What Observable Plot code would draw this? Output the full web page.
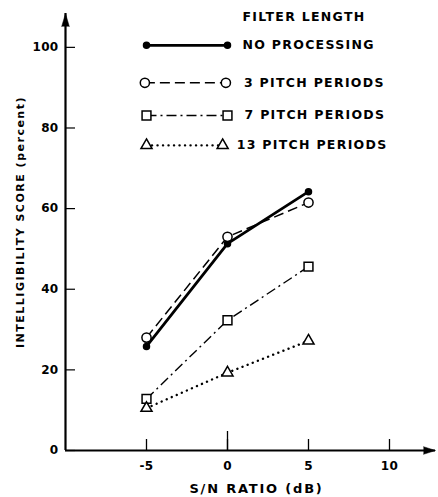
<!DOCTYPE html>
<html><head><meta charset="utf-8">
<script src="https://cdn.jsdelivr.net/npm/d3@7"></script>
<script src="https://cdn.jsdelivr.net/npm/@observablehq/plot@0.6"></script>
<style>
body{margin:0;background:#fff}
#chart svg{font-family:"DejaVu Sans",sans-serif;font-weight:bold;}
#chart svg .lgd text{letter-spacing:1.3px}
#chart svg .ylab text{letter-spacing:1.5px}
#chart svg .xlab text{letter-spacing:1.8px}
#chart svg .tickl text{letter-spacing:0.3px}
</style>
</head><body><div id="chart"></div><script>
// ---- data ----
const snr = [-5, 0, 5];
const noProcessing = [25.8, 51.3, 64.2];
const pitch3 = [28, 53, 61.5];
const pitch7 = [12.8, 32.3, 45.6];
const pitch13 = [10.5, 19.3, 27.2];
const seriesNames = ["NO PROCESSING", "3 PITCH PERIODS", "7 PITCH PERIODS", "13 PITCH PERIODS"];
const legendTitle = "FILTER LENGTH";
const xTicks = [-5, 0, 5, 10];
const yTicks = [0, 20, 40, 60, 80, 100];
const xLabel = "S/N RATIO (dB)";
const yLabel = "INTELLIGIBILITY SCORE (percent)";

// ---- styles / layout ----
const seriesValues = [noProcessing, pitch3, pitch7, pitch13];
const styles = [
  {strokeWidth: 2.8, dash: null, cap: "butt", symbol: "circle", r: 3, fill: "black"},
  {strokeWidth: 1.5, dash: "10 5", cap: "butt", symbol: "circle", r: 4.6, fill: "white"},
  {strokeWidth: 1.4, dash: "10 4 2 4", cap: "butt", symbol: "square", r: 5, fill: "white"},
  {strokeWidth: 2.4, dash: "0.1 5.4", cap: "round", symbol: "triangle", r: 4.1, fill: "white"}
];
const xMin = -10, xMax = 12.84, yMin = 0, yMax = 108.4;
const legendRowY = [100.5, 91.2, 83.1, 75.7];
const legendTitleY = 107.5;
const legendX1 = [-5, -5.1, -5, -5], legendX2 = [0, -0.1, 0, -0.3];
const legendTextDx = [15, 18, 17, 14];
const lgdFont = {fontSize: 12.5, fill: "black", fontWeight: "bold"};

const marks = [];
// axes lines + arrowheads
marks.push(Plot.ruleX([xMin], {y1: yMin, y2: yMax, strokeWidth: 2.2}));
marks.push(Plot.ruleY([yMin], {x1: xMin, x2: xMax, strokeWidth: 2}));
marks.push(Plot.vector([0], {x: () => xMin, y: () => yMax, anchor: "end", length: 13, r: 3.8, shape: "spike", fill: "black", stroke: "black", strokeWidth: 0.5}));
marks.push(Plot.vector([0], {x: () => xMax, y: () => yMin, anchor: "end", length: 12, r: 3.8, rotate: 90, shape: "spike", fill: "black", stroke: "black", strokeWidth: 0.5}));
// tick labels and inward ticks
marks.push(Plot.axisY(yTicks, {tickSize: 0, tickPadding: 7, label: null, fontSize: 12, fill: "black", className: "tickl"}));
marks.push(Plot.axisY(yTicks, {tickSize: -10, text: null, label: null, strokeWidth: 1.2}));
marks.push(Plot.axisX(xTicks, {tickSize: 0, tickPadding: 11, label: null, fontSize: 12, fill: "black", tickFormat: d => String(d), className: "tickl"}));
marks.push(Plot.axisX(xTicks, {tickSize: -11, text: null, label: null, strokeWidth: 1.3}));
marks.push(Plot.axisX([0], {tickSize: -19, text: null, label: null, strokeWidth: 1.3}));
// axis titles
marks.push(Plot.text([yLabel], {text: d => d, frameAnchor: "left", textAnchor: "middle", rotate: -90, dx: -45, dy: -10, fontSize: 11, fill: "black", fontWeight: "bold", className: "ylab"}));
marks.push(Plot.text([xLabel], {text: d => d, frameAnchor: "bottom", dx: 6, dy: 42, fontSize: 13, fill: "black", fontWeight: "bold", className: "xlab"}));

// series
seriesValues.forEach((vals, i) => {
  const s = styles[i];
  const pts = snr.map((x, j) => ({x, y: vals[j]}));
  marks.push(Plot.line(pts, {x: "x", y: "y", stroke: "black", strokeWidth: s.strokeWidth, strokeDasharray: s.dash, strokeLinecap: s.cap}));
});
seriesValues.forEach((vals, i) => {
  const s = styles[i];
  const pts = snr.map((x, j) => ({x, y: vals[j]}));
  marks.push(Plot.dot(pts, {x: "x", y: "y", symbol: s.symbol, r: s.r, fill: s.fill, stroke: "black", strokeWidth: 1.5}));
});

// legend
marks.push(Plot.text([legendTitle], {x: () => 0, y: () => legendTitleY, text: d => d, textAnchor: "start", dx: 15, ...lgdFont, className: "lgd"}));
seriesNames.forEach((name, i) => {
  const s = styles[i];
  const pts = [{x: legendX1[i], y: legendRowY[i]}, {x: legendX2[i], y: legendRowY[i]}];
  marks.push(Plot.line(pts, {x: "x", y: "y", stroke: "black", strokeWidth: s.strokeWidth, strokeDasharray: s.dash, strokeLinecap: s.cap}));
  marks.push(Plot.dot(pts, {x: "x", y: "y", symbol: s.symbol, r: s.r, fill: s.fill, stroke: "black", strokeWidth: 1.5}));
  marks.push(Plot.text([name], {x: () => legendX2[i], y: () => legendRowY[i], text: d => d, textAnchor: "start", dx: legendTextDx[i], ...lgdFont, className: "lgd"}));
});

const chart = Plot.plot({
  width: 438, height: 497,
  marginLeft: 65, marginRight: 3, marginTop: 13, marginBottom: 47,
  x: {domain: [xMin, xMax], label: null},
  y: {domain: [yMin, yMax], label: null},
  style: {background: "white", color: "black", overflow: "visible"},
  marks
});
document.getElementById("chart").appendChild(chart);
</script></body></html>
